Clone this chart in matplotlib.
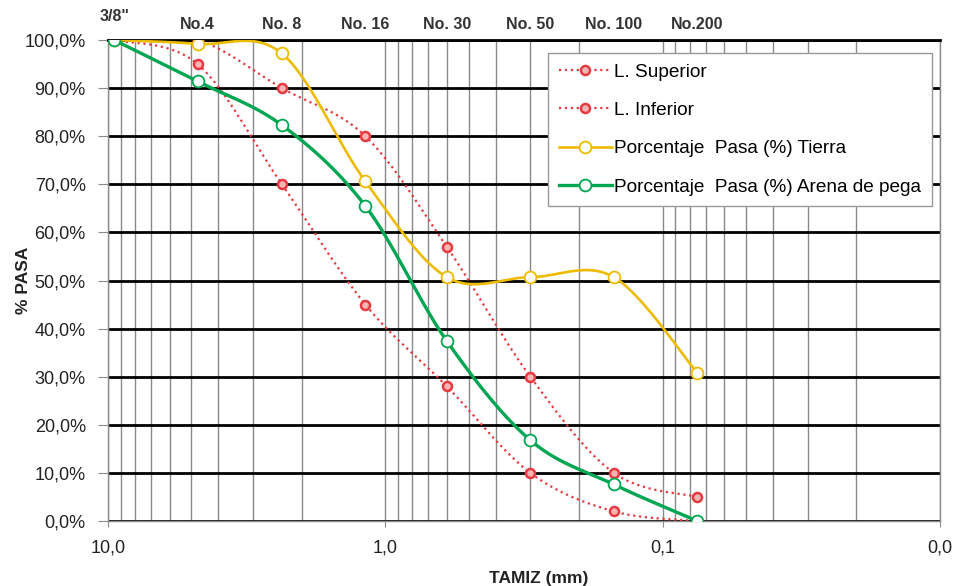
import numpy as np
import matplotlib
matplotlib.use("Agg")
import matplotlib.pyplot as plt
from matplotlib.lines import Line2D
from matplotlib.ticker import FixedLocator, NullFormatter, LogLocator

plt.rcParams['font.family'] = ['Liberation Sans', 'DejaVu Sans']

# ---- data ----
sieve_labels = ['3/8"', 'No.4', 'No. 8', 'No. 16', 'No. 30', 'No. 50', 'No. 100', 'No.200']
sieve_mm = [9.5, 4.75, 2.36, 1.18, 0.6, 0.3, 0.15, 0.075]
lim_sup = [100, 100, 90, 80, 57, 30, 10, 5]
lim_inf = [100, 95, 70, 45, 28, 10, 2, 0]
tierra = [100, 99.2, 97.2, 70.6, 50.7, 50.7, 50.7, 30.8]
arena = [100, 91.4, 82.3, 65.5, 37.4, 16.8, 7.6, 0]
x_tick_vals = [10, 1, 0.1, 0.01]
x_tick_labels = ['10,0', '1,0', '0,1', '0,0']
y_tick_vals = [0, 10, 20, 30, 40, 50, 60, 70, 80, 90, 100]
y_tick_labels = ['%d,0%%' % v for v in y_tick_vals]

def smooth(xs, ys, n=30):
    """Catmull-Rom spline in (log10 x, y) space, like Excel smoothed lines."""
    lx = np.log10(np.asarray(xs, float))
    y = np.asarray(ys, float)
    P = np.column_stack([lx, y])
    P = np.vstack([P[0], P, P[-1]])
    out = []
    for i in range(1, len(P) - 2):
        p0, p1, p2, p3 = P[i - 1], P[i], P[i + 1], P[i + 2]
        t = np.linspace(0, 1, n, endpoint=False)[:, None]
        seg = 0.5 * ((2 * p1) + (-p0 + p2) * t + (2 * p0 - 5 * p1 + 4 * p2 - p3) * t ** 2
                     + (-p0 + 3 * p1 - 3 * p2 + p3) * t ** 3)
        out.append(seg)
    out.append(P[-2][None, :])
    S = np.vstack(out)
    return 10 ** S[:, 0], S[:, 1]

red = '#E53A3F'
yellow = '#EDBB00'
green = '#00A651'

fig = plt.figure(figsize=(9.54, 5.86), dpi=100)
ax = fig.add_axes([0.1132, 0.1109, 0.8721, 0.8208])
ax.set_xscale('log')
ax.set_xlim(10, 0.01)
ax.set_ylim(0, 100)

# grid
ax.xaxis.set_major_locator(FixedLocator(x_tick_vals))
ax.xaxis.set_minor_locator(LogLocator(base=10, subs=np.arange(2, 10)))
ax.xaxis.set_minor_formatter(NullFormatter())
ax.set_xticklabels(x_tick_labels)
ax.set_yticks(y_tick_vals)
ax.set_yticklabels(y_tick_labels)
ax.grid(True, which='both', axis='x', color='#8a8a8a', lw=1.0)
ax.grid(True, which='major', axis='y', color='black', lw=2.0)
ax.set_axisbelow(True)

for s in ['left', 'bottom', 'right']:
    ax.spines[s].set_color('#8a8a8a')
    ax.spines[s].set_linewidth(1.0)
ax.spines['top'].set_color('black')
ax.spines['top'].set_linewidth(2.0)

ax.tick_params(axis='y', which='major', length=7, color='#8a8a8a', labelsize=13, pad=9, labelcolor='#222222')
ax.tick_params(axis='x', which='major', length=4, color='#8a8a8a', labelsize=13, pad=9, labelcolor='#222222')
ax.tick_params(axis='x', which='minor', length=0)

# series
def plot_series(vals, color, ls, lw, mfc, ms, mew, z):
    sx, sy = smooth(sieve_mm, vals)
    ax.plot(sx, sy, color=color, ls=ls, lw=lw, zorder=z)
    ax.plot(sieve_mm, vals, ls='none', marker='o', ms=ms, mfc=mfc, mec=color, mew=mew, zorder=z + 0.5)

plot_series(lim_sup, red, ':', 1.6, '#F7B5B5', 6.5, 1.8, 3)
plot_series(lim_inf, red, ':', 1.6, '#F7B5B5', 6.5, 1.8, 3)
plot_series(tierra, yellow, '-', 1.9, 'white', 8.5, 1.3, 4)
plot_series(arena, green, '-', 2.4, 'white', 8.5, 1.3, 5)

# top sieve labels
for xv, lab in zip(sieve_mm, sieve_labels):
    yy = 1.048 if lab.startswith('3/8') else 1.033
    ax.text(xv, yy, lab, transform=ax.get_xaxis_transform(), ha='center', va='center',
            fontsize=11.5, fontweight='bold', color='#333333')

ax.set_ylabel('% PASA', fontsize=12.5, fontweight='bold', color='#222222')
ax.yaxis.set_label_coords(-0.093, 0.5)
fig.text(0.565, 1 - 578 / 586, 'TAMIZ (mm)', ha='center', va='center', fontsize=12.5,
         fontweight='bold', color='#222222')

handles = [
    Line2D([], [], color=red, ls=':', lw=1.6, marker='o', ms=6.5, mfc='#F7B5B5', mec=red, mew=1.8),
    Line2D([], [], color=red, ls=':', lw=1.6, marker='o', ms=6.5, mfc='#F7B5B5', mec=red, mew=1.8),
    Line2D([], [], color=yellow, ls='-', lw=1.9, marker='o', ms=8.5, mfc='white', mec=yellow, mew=1.3),
    Line2D([], [], color=green, ls='-', lw=2.4, marker='o', ms=8.5, mfc='white', mec=green, mew=1.3),
]
labels = ['L. Superior', 'L. Inferior', 'Porcentaje  Pasa (%) Tierra', 'Porcentaje  Pasa (%) Arena de pega']
leg = ax.legend(handles, labels, loc='upper right', bbox_to_anchor=(0.99, 0.973), fontsize=13.7,
                frameon=True, fancybox=False, edgecolor='#999999', framealpha=1,
                handlelength=2.8, handletextpad=0.12, labelspacing=1.1, borderpad=0.55,
                borderaxespad=0)
leg.get_frame().set_linewidth(1.0)
leg.set_zorder(10)

fig.savefig('out.png', dpi=100)
